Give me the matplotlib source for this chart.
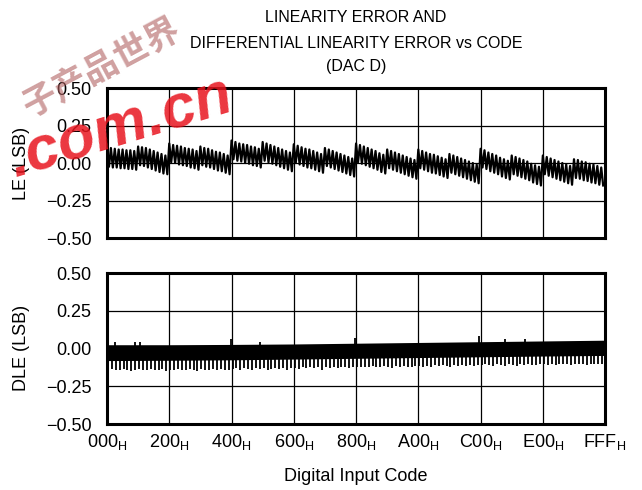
import numpy as np
import matplotlib
matplotlib.use("Agg")
import matplotlib.pyplot as plt

plt.rcParams['font.family'] = ['Liberation Sans', 'DejaVu Sans']
plt.rcParams['axes.unicode_minus'] = True

CODE_MAX = 4095
TOOTH = 32   # LE ripple period, codes

tick_codes = [0, 512, 1024, 1536, 2048, 2560, 3072, 3584, 4095]
tick_names = ["000", "200", "400", "600", "800", "A00", "C00", "E00", "FFF"]
y_ticks = [-0.5, -0.25, 0.0, 0.25, 0.5]

# LE ripple tops / bottoms, one row per 200H segment (16 teeth each)
le_peaks = [
    [.10, .10, .095, .09, .09, .085, .085, .08, .11, .105, .10, .09, .08, .07, .06, .05],
    [.13, .12, .115, .11, .10, .095, .09, .08, .11, .10, .095, .085, .075, .07, .06, .05],
    [.15, .14, .13, .125, .12, .11, .105, .095, .14, .13, .12, .11, .10, .09, .08, .07],
    [.125, .115, .105, .095, .09, .08, .07, .06, .10, .09, .08, .07, .06, .05, .04, .03],
    [.13, .12, .11, .10, .09, .08, .065, .055, .09, .08, .07, .06, .05, .04, .03, .02],
    [.09, .08, .07, .06, .055, .045, .035, .025, .06, .05, .04, .03, .02, .01, 0, -.01],
    [.095, .085, .07, .06, .05, .035, .025, .015, .05, .04, .03, .02, .01, -.005, -.015, -.025],
    [.05, .04, .03, .02, .01, 0, -.01, -.02, .025, .02, .01, .005, -.005, -.01, -.02, -.03],
]
le_troughs = [
    [-.025, -.03, -.03, -.035, -.035, -.04, -.04, -.045, -.015, -.02, -.03, -.04, -.05, -.06, -.07, -.075],
    [.005, 0, -.01, -.015, -.02, -.03, -.035, -.045, -.015, -.025, -.03, -.04, -.05, -.055, -.065, -.075],
    [.025, .015, .01, 0, -.005, -.015, -.02, -.03, .015, .005, -.005, -.015, -.025, -.035, -.045, -.055],
    [0, -.01, -.02, -.03, -.035, -.045, -.055, -.065, -.02, -.03, -.04, -.05, -.06, -.07, -.08, -.09],
    [.005, -.005, -.015, -.025, -.035, -.045, -.06, -.07, -.035, -.045, -.055, -.065, -.075, -.085, -.095, -.105],
    [-.035, -.045, -.055, -.065, -.07, -.08, -.09, -.10, -.065, -.075, -.085, -.095, -.105, -.115, -.125, -.135],
    [-.03, -.04, -.055, -.065, -.075, -.09, -.10, -.11, -.075, -.085, -.095, -.105, -.115, -.13, -.14, -.15],
    [-.075, -.085, -.095, -.105, -.115, -.125, -.135, -.145, -.10, -.105, -.115, -.12, -.13, -.135, -.145, -.15],
]

# DLE band edges at the 200H boundaries
dle_top = [0.025, 0.025, 0.027, 0.03, 0.035, 0.04, 0.045, 0.05, 0.055]
dle_bottom = [-0.08, -0.078, -0.075, -0.07, -0.065, -0.06, -0.055, -0.05, -0.046]
# downward DLE spikes, one per 32 codes
dle_spikes = [
    [-.145, -.135, -.14, -.145, -.135, -.14, -.15, -.14, -.135, -.145, -.14, -.135, -.145, -.14, -.135, -.15],
    [-.14, -.145, -.135, -.14, -.145, -.135, -.14, -.15, -.135, -.14, -.145, -.135, -.14, -.135, -.145, -.14],
    [-.135, -.13, -.14, -.13, -.135, -.145, -.13, -.135, -.13, -.14, -.135, -.13, -.135, -.13, -.14, -.13],
    [-.13, -.135, -.125, -.13, -.125, -.13, -.125, -.14, -.125, -.13, -.125, -.13, -.125, -.125, -.13, -.125],
    [-.125, -.12, -.125, -.12, -.115, -.12, -.125, -.115, -.12, -.13, -.115, -.12, -.115, -.12, -.125, -.115],
    [-.115, -.12, -.115, -.12, -.11, -.115, -.11, -.115, -.12, -.11, -.115, -.11, -.115, -.11, -.115, -.11],
    [-.11, -.105, -.11, -.115, -.105, -.11, -.115, -.105, -.11, -.115, -.105, -.11, -.105, -.11, -.11, -.105],
    [-.105, -.11, -.1, -.11, -.1, -.105, -.1, -.11, -.1, -.105, -.1, -.11, -.1, -.105, -.1, -.105],
]
# a few upward DLE spikes
up_codes = [66, 230, 271, 1017, 1258, 2040, 3059, 3272, 3437]
up_vals = [0.045, 0.04, 0.04, 0.065, 0.045, 0.07, 0.08, 0.065, 0.065]

fig = plt.figure(figsize=(6.42, 4.9), dpi=100)
ax1 = fig.add_axes([107/642, 1-238/490, 498/642, 150/490])
ax2 = fig.add_axes([107/642, 1-424/490, 498/642, 151/490])

for ax in (ax1, ax2):
    ax.set_xlim(0, CODE_MAX)
    ax.set_ylim(-0.5, 0.5)
    ax.set_xticks(tick_codes)
    ax.set_yticks(y_ticks)
    ax.set_yticklabels([f"{v:.2f}".replace("-", "\u2212") for v in y_ticks])
    ax.grid(True, color='black', lw=0.9)
    ax.set_axisbelow(True)
    ax.tick_params(length=0, labelsize=13, pad=11)
    for s in ax.spines.values():
        s.set_linewidth(2.2)

ax1.set_xticklabels([])
ax2.set_xticklabels([r"$\mathregular{%s_H}$" % n for n in tick_names])
ax2.tick_params(axis='x', pad=6, labelsize=13)

# LE: zigzag through the read tops and bottoms
le_x, le_y = [], []
for i, (p, t) in enumerate(zip(sum(le_peaks, []), sum(le_troughs, []))):
    le_x += [i*TOOTH, i*TOOTH + TOOTH/2]
    le_y += [p, t]
ax1.plot(le_x, le_y, color='black', lw=1.6)

# DLE: dense band plus spikes
ax2.fill_between(tick_codes, dle_bottom, dle_top, color='black', lw=0)
spk = sum(dle_spikes, [])
spk_x = [i*TOOTH + 8 for i in range(len(spk))]
ax2.vlines(spk_x, np.interp(spk_x, tick_codes, dle_bottom) + 0.01, spk, color='black', lw=1.3)
ax2.vlines(up_codes, np.interp(up_codes, tick_codes, dle_top) - 0.01, up_vals, color='black', lw=1.3)

# text
fig.text(356/642, 1-18/490, "LINEARITY ERROR AND", ha='center', va='center', fontsize=11.5)
fig.text(356/642, 1-43/490, "DIFFERENTIAL LINEARITY ERROR vs CODE", ha='center', va='center', fontsize=11.5)
fig.text(356/642, 1-67/490, "(DAC D)", ha='center', va='center', fontsize=11.5)
fig.text(22/642, 1-163/490, "LE (LSB)", rotation=90, ha='center', va='center', fontsize=13)
fig.text(22/642, 1-348/490, "DLE (LSB)", rotation=90, ha='center', va='center', fontsize=13)
fig.text(356/642, 1-476/490, "Digital Input Code", ha='center', va='center', fontsize=13)

# watermark
fig.text(30/642, 1-118/490, "子产品世界", rotation=28, rotation_mode='anchor',
         ha='left', va='baseline', fontsize=25, fontweight='bold', color='#b06060', alpha=0.6,
         family=['Noto Sans CJK SC', 'DejaVu Sans'], zorder=10)
fig.text(15/642, 1-178/490, ".com.cn", rotation=17, rotation_mode='anchor',
         ha='left', va='baseline', fontsize=44, fontweight='bold', style='italic',
         color='#e8141e', alpha=0.85, zorder=10)

fig.savefig("out.png", dpi=100)
